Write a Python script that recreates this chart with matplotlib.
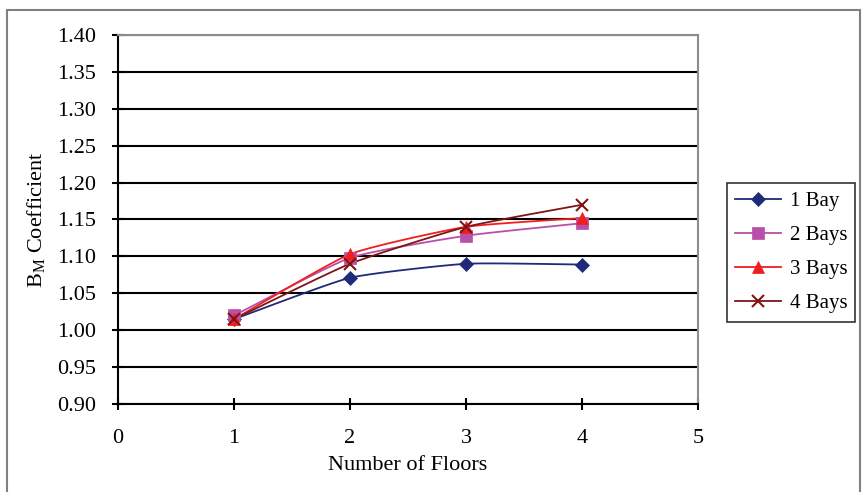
import numpy as np
import matplotlib.pyplot as plt
from matplotlib.patches import Rectangle

plt.rcParams['font.family'] = ['Liberation Serif', 'DejaVu Serif']

# Data
floors = [1, 2, 3, 4]
bay1 = [1.015, 1.071, 1.090, 1.089]
bay2 = [1.020, 1.098, 1.128, 1.145]
bay3 = [1.015, 1.103, 1.140, 1.152]
bay4 = [1.015, 1.090, 1.140, 1.170]
labels = ['1 Bay', '2 Bays', '3 Bays', '4 Bays']
colors = ['#1f2a78', '#b84fa8', '#f01e1e', '#7f1616']
markers = ['D', 's', '^', 'x']
msizes = [7, 8, 9, 9]


def smooth(x, y, n=30):
    # Catmull-Rom style curve through the points (like Excel smoothed lines)
    x = np.asarray(x, float)
    y = np.asarray(y, float)
    px = np.concatenate([[2 * x[0] - x[1]], x, [2 * x[-1] - x[-2]]])
    py = np.concatenate([[2 * y[0] - y[1]], y, [2 * y[-1] - y[-2]]])
    xs, ys = [], []
    t = np.linspace(0, 1, n)
    for i in range(1, len(px) - 2):
        for p, out in ((px, xs), (py, ys)):
            p0, p1, p2, p3 = p[i - 1], p[i], p[i + 1], p[i + 2]
            m1 = (p2 - p0) / 2 * 0.5
            m2 = (p3 - p1) / 2 * 0.5
            h00 = 2 * t**3 - 3 * t**2 + 1
            h10 = t**3 - 2 * t**2 + t
            h01 = -2 * t**3 + 3 * t**2
            h11 = t**3 - t**2
            out.extend(h00 * p1 + h10 * m1 + h01 * p2 + h11 * m2)
    return xs, ys


fig = plt.figure(figsize=(8.67, 4.92), dpi=100)
ax = fig.add_axes([118 / 867, 1 - 404 / 492, 580 / 867, 369 / 492])

handles = []
for ys, lab, c, m, ms in zip([bay1, bay2, bay3, bay4], labels, colors, markers, msizes):
    sx, sy = smooth(floors, ys)
    ax.plot(sx, sy, color=c, lw=1.3, zorder=3)
    ax.plot(floors, ys, linestyle='none', marker=m, color=c, ms=ms,
            mew=1.5 if m == 'x' else 0.5, zorder=4)
    h, = ax.plot([], [], color=c, lw=1.3, marker=m, ms=ms,
                 mew=1.5 if m == 'x' else 0.5)
    handles.append(h)

ax.set_xlim(0, 5)
ax.set_ylim(0.90, 1.40)
ax.set_xticks(range(6))
ax.set_yticks(np.arange(0.90, 1.401, 0.05))
ax.set_yticklabels([f'{v:.2f}' for v in np.arange(0.90, 1.401, 0.05)])
ax.yaxis.grid(True, color='black', lw=1.5)
ax.set_axisbelow(True)
for s in ['left', 'bottom']:
    ax.spines[s].set_linewidth(1.5)
    ax.spines[s].set_color('black')
for s in ['top', 'right']:
    ax.spines[s].set_linewidth(1.5)
    ax.spines[s].set_color('#8c8c8c')
ax.tick_params(direction='inout', length=8, width=1.5, labelsize=16, colors='black')
ax.tick_params(axis='x', pad=14)
ax.tick_params(axis='y', pad=12)
ax.set_xlabel('Number of Floors', fontsize=16, labelpad=6)
ax.set_ylabel(r'B$_\mathregular{M}$ Coefficient', fontsize=16, labelpad=6)

leg = fig.legend(handles, labels, loc='upper left',
                 bbox_to_anchor=(727 / 867, 1 - 183 / 492), fontsize=15,
                 frameon=True, fancybox=False, edgecolor='black',
                 handlelength=2.2, handletextpad=0.4, borderpad=0.4,
                 borderaxespad=0, labelspacing=0.7)
leg.get_frame().set_linewidth(1.2)

# outer chart border
fig.patches.append(Rectangle((7 / 867, -0.05), 853 / 867, 1 - 10 / 492 + 0.05,
                             transform=fig.transFigure, fill=False,
                             edgecolor='#808080', lw=1.5))

fig.savefig('out.png', dpi=100)
